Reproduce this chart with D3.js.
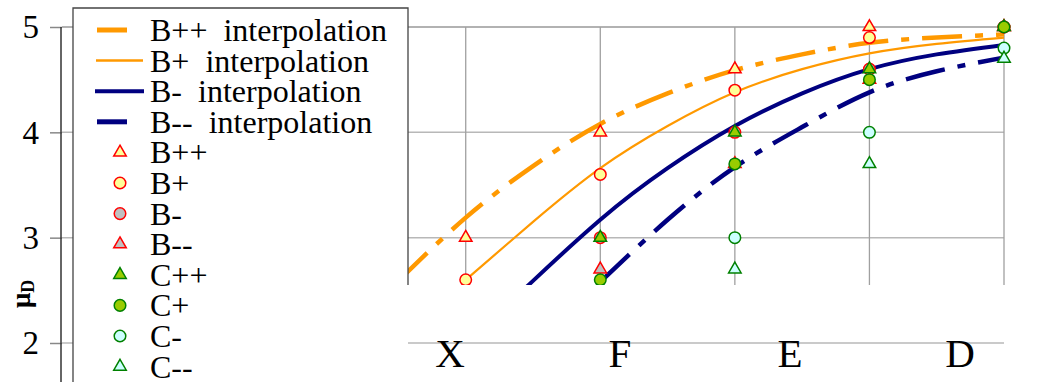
<!DOCTYPE html>
<html>
<head>
<meta charset="utf-8">
<script src="https://cdn.jsdelivr.net/npm/d3@7/dist/d3.min.js"></script>
<style>
  body { margin: 0; background: #fff; }
  svg { display: block; font-family: "Liberation Serif", "Times New Roman", serif; }
</style>
</head>
<body>
<svg id="chart" width="1039" height="382"></svg>
<script>
// category labels along the bottom and the grid positions
const xLabels = ['X', 'F', 'E', 'D'];
const gridX = [1, 2, 3, 4, 5, 6, 7];
const yTicks = [2, 3, 4, 5];

// measured points (x = grid position)
const pointX = [3, 4, 5, 6, 7];
const bPP = [3.0, 4.0, 4.6, 5.0, 5.0];
const bP  = [2.6, 3.6, 4.4, 4.9, 5.0];
const bM  = [null, 3.0, 4.0, 4.6, 5.0];
const bMM = [null, 2.7, 3.7, 4.5, 5.0];
const cPP = [null, 3.0, 4.0, 4.6, 5.0];
const cP  = [null, 2.6, 3.7, 4.5, 5.0];
const cM  = [null, null, 3.0, 4.0, 4.8];
const cMM = [null, null, 2.7, 3.7, 4.7];

// interpolation curves
const bPPInterpX = [2.5, 3, 3.5, 4, 4.5, 5, 5.5, 6, 6.5, 7];
const bPPInterp  = [2.59, 3.19, 3.68, 4.08, 4.37, 4.59, 4.74, 4.85, 4.9, 4.93];
const bPInterpX  = [3, 3.5, 4, 4.5, 5, 5.5, 6, 6.5, 7];
const bPInterp   = [2.6, 3.15, 3.66, 4.06, 4.38, 4.6, 4.75, 4.84, 4.9];
const bMInterpX  = [3.45, 3.5, 4, 4.5, 5, 5.5, 6, 6.5, 7];
const bMInterp   = [2.53, 2.59, 3.17, 3.66, 4.06, 4.37, 4.6, 4.74, 4.83];
const bMMInterpX = [4, 4.5, 5, 5.5, 6, 6.5, 7];
const bMMInterp  = [2.58, 3.17, 3.67, 4.05, 4.38, 4.58, 4.71];

const orange = '#ff9900', navy = '#000080';
const red = '#ff0000', green = '#008000';

const svg = d3.select('#chart');

const x = d3.scaleLinear().domain([0, 7]).range([62, 1004]);
const y = d3.scaleLinear().domain([2, 5]).range([343, 27]);
const xLab = d3.scalePoint().domain(xLabels).range([450, 960]);

svg.append('clipPath').attr('id', 'plotClip')
    .append('rect').attr('x', 0).attr('y', 0).attr('width', 1039).attr('height', 285);

// grid
const grid = svg.append('g');
grid.selectAll('line.h').data(yTicks).enter().append('line')
    .attr('x1', 62).attr('x2', 1004)
    .attr('y1', d => y(d)).attr('y2', d => y(d))
    .attr('stroke', d => d === 5 ? '#999' : '#b8b8b8').attr('stroke-width', 1.5);
grid.selectAll('line.v').data(gridX).enter().append('line')
    .attr('x1', d => x(d)).attr('x2', d => x(d))
    .attr('y1', 27).attr('y2', 285)
    .attr('stroke', '#a0a0a0').attr('stroke-width', 1.3);

// y axis
const yAxis = d3.axisLeft(y).tickValues(yTicks).tickSize(12).tickPadding(11).tickFormat(d3.format('d'));
const ya = svg.append('g').attr('transform', 'translate(62,0)').call(yAxis);
ya.select('.domain').remove();
ya.selectAll('.tick line').attr('stroke', '#888').attr('stroke-width', 1.5);
ya.selectAll('.tick text').attr('font-family', '"Liberation Serif", serif')
    .attr('font-size', 33).attr('fill', '#000').attr('dy', '0.33em');
svg.append('line').attr('x1', 61).attr('x2', 61).attr('y1', 27).attr('y2', 382)
    .attr('stroke', '#333').attr('stroke-width', 1.5);

// y label
const yl = svg.append('text').attr('transform', 'translate(30,308) rotate(-90)')
    .attr('font-weight', 'bold').attr('font-size', 27);
yl.append('tspan').text('μ');
yl.append('tspan').attr('font-size', 18).attr('dy', 4).text('D');

// curves
const plot = svg.append('g').attr('clip-path', 'url(#plotClip)');
const line = d3.line().x(d => x(d[0])).y(d => y(d[1])).curve(d3.curveNatural);
const curves = [
  { xs: bPPInterpX, ys: bPPInterp, color: orange, w: 4.5, dash: '40,13,8,13' },
  { xs: bPInterpX, ys: bPInterp, color: orange, w: 2.2, dash: null },
  { xs: bMInterpX, ys: bMInterp, color: navy, w: 4, dash: null },
  { xs: bMMInterpX, ys: bMMInterp, color: navy, w: 4.5, dash: '40,13,8,13' }
];
curves.forEach(c => {
  plot.append('path').datum(c.xs.map((v, i) => [v, c.ys[i]]))
      .attr('d', line).attr('fill', 'none')
      .attr('stroke', c.color).attr('stroke-width', c.w)
      .attr('stroke-dasharray', c.dash);
});

// markers
const markers = [
  { name: 'B++', vals: bPP, shape: d3.symbolTriangle, stroke: red, fill: '#ffff99' },
  { name: 'B+', vals: bP, shape: d3.symbolCircle, stroke: red, fill: '#ffff99' },
  { name: 'B-', vals: bM, shape: d3.symbolCircle, stroke: red, fill: '#c0c0c0' },
  { name: 'B--', vals: bMM, shape: d3.symbolTriangle, stroke: red, fill: '#c0c0c0' },
  { name: 'C++', vals: cPP, shape: d3.symbolTriangle, stroke: green, fill: '#99cc00' },
  { name: 'C+', vals: cP, shape: d3.symbolCircle, stroke: green, fill: '#99cc00' },
  { name: 'C-', vals: cM, shape: d3.symbolCircle, stroke: green, fill: '#ccffff' },
  { name: 'C--', vals: cMM, shape: d3.symbolTriangle, stroke: green, fill: '#ccffff' }
];
const symSize = s => s === d3.symbolCircle ? 105 : 68;
markers.forEach(m => {
  const pts = pointX.map((v, i) => [v, m.vals[i]]).filter(d => d[1] !== null);
  plot.selectAll(null).data(pts).enter().append('path')
      .attr('transform', d => `translate(${x(d[0])},${y(d[1])})`)
      .attr('d', d3.symbol().type(m.shape).size(symSize(m.shape)))
      .attr('fill', m.fill).attr('stroke', m.stroke).attr('stroke-width', 1.5);
});

// x labels
svg.selectAll('text.xl').data(xLabels).enter().append('text')
    .attr('x', d => xLab(d)).attr('y', 367)
    .attr('text-anchor', 'middle').attr('font-size', 41).text(d => d);

// legend
const lg = svg.append('g');
lg.append('rect').attr('x', 73).attr('y', 8).attr('width', 335).attr('height', 380).attr('fill', '#fff');
lg.append('path').attr('d', 'M73,382V8H408V285').attr('fill', 'none')
    .attr('stroke', '#444').attr('stroke-width', 1.3);
const rowY = i => 30 + i * 30.6;
const lineLegend = [
  { label: 'B++  interpolation', color: orange, w: 5, x1: 97, x2: 127 },
  { label: 'B+  interpolation', color: orange, w: 2.5, x1: 96, x2: 143 },
  { label: 'B-  interpolation', color: navy, w: 4, x1: 95, x2: 144 },
  { label: 'B--  interpolation', color: navy, w: 5, x1: 97, x2: 127 }
];
lineLegend.forEach((d, i) => {
  lg.append('line').attr('x1', d.x1).attr('x2', d.x2).attr('y1', rowY(i)).attr('y2', rowY(i))
      .attr('stroke', d.color).attr('stroke-width', d.w);
  lg.append('text').attr('x', 150).attr('y', rowY(i) + 11).attr('font-size', 32)
      .style('white-space', 'pre').text(d.label);
});
markers.forEach((m, j) => {
  const i = j + 4;
  lg.append('path').attr('transform', `translate(120,${rowY(i)})`)
      .attr('d', d3.symbol().type(m.shape).size(symSize(m.shape)))
      .attr('fill', m.fill).attr('stroke', m.stroke).attr('stroke-width', 1.5);
  lg.append('text').attr('x', 150).attr('y', rowY(i) + 11).attr('font-size', 32).text(m.name);
});
</script>
</body>
</html>
